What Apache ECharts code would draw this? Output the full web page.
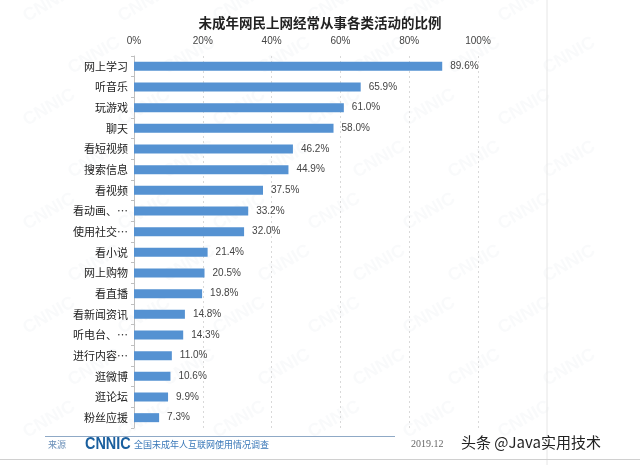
<!DOCTYPE html>
<html><head><meta charset="utf-8">
<script src="https://cdn.jsdelivr.net/npm/echarts@6/dist/echarts.min.js"></script>
<style>html,body{margin:0;padding:0;background:#fff}#c{width:640px;height:465px}</style>
</head><body><div id="c"></div>
<script>
const categories = ["网上学习","听音乐","玩游戏","聊天","看短视频","搜索信息","看视频","看动画、…","使用社交…","看小说","网上购物","看直播","看新闻资讯","听电台、…","进行内容…","逛微博","逛论坛","粉丝应援"];
const values = [89.6,65.9,61.0,58.0,46.2,44.9,37.5,33.2,32.0,21.4,20.5,19.8,14.8,14.3,11.0,10.6,9.9,7.3];
const tickValues = [0,20,40,60,80,100];

const chart = echarts.init(document.getElementById('c'));
const wm = [];
for (let r = 0; r < 9; r++) {
  for (let k = 0; k < 6; k++) {
    wm.push({type:'text', x: 20 + k*95 + (r%2)*45, y: 10 + r*52, rotation: Math.PI/6,
      style:{text:'CNNIC', fill:'rgba(120,140,170,0.045)', font:'bold 18px Arial'}, z:-10, silent:true});
  }
}
chart.setOption({
  animation:false,
  title:{text:'未成年网民上网经常从事各类活动的比例', left:315, top:11, textAlign:'center',
    textStyle:{fontSize:13.5, fontWeight:'bold', color:'#222', fontFamily:'Noto Sans CJK SC'}},
  grid:{left:134, right:162, top:56, bottom:37, containLabel:false},
  xAxis:{type:'value', position:'top', min:0, max:100, interval:20,
    axisLabel:{formatter: v => tickValues.includes(v) ? v + '%' : '', color:'#444', fontSize:10, margin:10, fontFamily:'Liberation Sans'},
    axisLine:{show:false}, axisTick:{show:false},
    splitLine:{show:true, lineStyle:{color:'#d9d9d9', type:[2,3], width:1}}},
  yAxis:{type:'category', inverse:true, data:categories,
    axisLine:{show:true, lineStyle:{color:'#bfbfbf'}}, axisTick:{show:true, length:3, lineStyle:{color:'#bfbfbf'}},
    axisLabel:{color:'#222', fontSize:11, margin:6, fontFamily:'Noto Sans CJK SC'}},
  series:[{type:'bar', data:values, barWidth:9, itemStyle:{color:'#5592d2'},
    label:{show:true, position:'right', distance:8, formatter: p => p.value.toFixed(1) + '%', color:'#444', fontSize:10, fontFamily:'Liberation Sans'}}],
  graphic:[
    ...wm,
    {type:'line', shape:{x1:547, y1:0, x2:547, y2:465}, style:{stroke:'#e6e6e6', lineWidth:1}},
    {type:'line', shape:{x1:45, y1:436.5, x2:395, y2:436.5}, style:{stroke:'#8fa9c6', lineWidth:1.2}},
    {type:'line', shape:{x1:0, y1:459.5, x2:640, y2:459.5}, style:{stroke:'#d0d0d0', lineWidth:1}},
    {type:'text', x:48, y:440, style:{text:'来源', fill:'#6a8fb8', font:'9px "Noto Sans CJK SC"'}},
    {type:'text', x:85, y:436, scaleX:0.85, style:{text:'CNNIC', fill:'#1a5f9e', font:'bold 17px "Liberation Sans"'}},
    {type:'text', x:134, y:440, style:{text:'全国未成年人互联网使用情况调查', fill:'#3a78b8', font:'9px "Noto Sans CJK SC"'}},
    {type:'text', x:411, y:439, style:{text:'2019.12', fill:'#666', font:'10px "Liberation Serif"'}},
    {type:'text', x:461, y:435, style:{text:'头条 @Java实用技术', fill:'#222', font:'15px "Noto Sans CJK SC"'}}
  ]
});
</script></body></html>
